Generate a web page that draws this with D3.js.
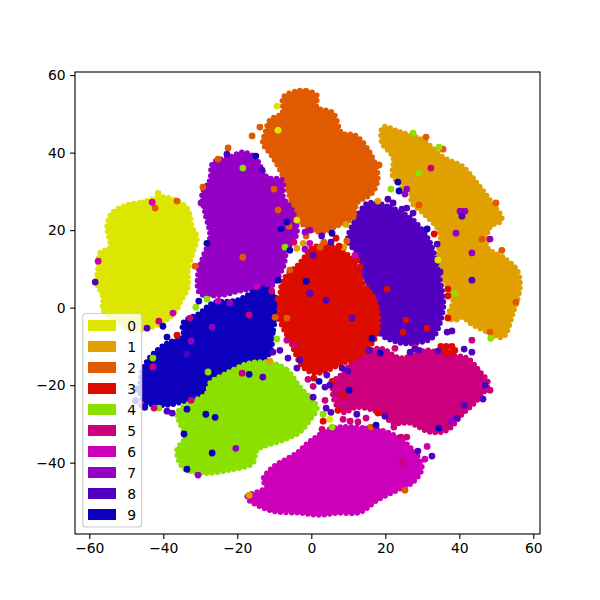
<!DOCTYPE html>
<html><head><meta charset="utf-8">
<style>html,body{margin:0;padding:0;background:#fff}svg{display:block}text{font-family:"DejaVu Sans",sans-serif;fill:#000}</style>
<script src="https://cdn.jsdelivr.net/npm/d3@7"></script></head><body><div id="c"></div>
<script>
const classLabels=["0","1","2","3","4","5","6","7","8","9"];
const classColors=["#dce600","#e0a000","#e05a00","#dc0c00","#8ce000","#cc007c","#cc00b8","#9400c4","#5200c0","#0c00bc"];
const xTicks=[-60,-40,-20,0,20,40,60];
const yTicks=[-40,-20,0,20,40,60];
const outline0=[[-49.8,26.5],[-45.8,27.2],[-39.5,28.5],[-33.6,25.7],[-32.2,20.8],[-30.9,18.2],[-32,14.1],[-33.3,9.7],[-33.3,5.3],[-35.5,1.2],[-36,0.1],[-38.2,-2.5],[-43,-5],[-49,-5.8],[-53,-3.2],[-56.3,-0.6],[-56.3,2.7],[-57.9,6.3],[-57.6,10.5],[-57.1,14.1],[-54.4,15.6],[-55.2,20.8],[-53.9,24.4]];
const outline1=[[19.4,46.6],[24,45.3],[30.2,43.2],[35.6,38.8],[41,36.3],[44.8,32.1],[48.3,27.7],[51.5,22.6],[48.3,20.8],[47.5,15.6],[51.8,13],[55.6,9.7],[56.4,5.3],[54.5,-1.4],[51.8,-7.6],[48.3,-6.6],[42.9,-4],[41,-2.5],[38.8,-3.2],[36.9,-2.5],[38.3,1.9],[35.6,7.9],[34.2,13],[34.8,19.2],[30.2,24.4],[27.2,27],[26.7,30.3],[22.1,33.7],[22.1,38.8],[19.1,42.5]];
const outline2=[[-3.9,55.9],[-1.2,55.9],[1.5,54.8],[1.5,51.7],[5.9,50.2],[8.3,45],[11.8,44.5],[15.9,39.9],[18,33.7],[16.4,29.5],[12.4,27],[11.3,23.4],[6.4,20.8],[2.4,19.5],[-3.1,22.1],[-5.8,28.5],[-7.6,33.7],[-10.4,38.8],[-13.1,42.5],[-12.5,45],[-11.2,48.4],[-7.9,50.2],[-7.6,54.3]];
const outline3=[[0.5,15.6],[5.9,15.6],[11.3,12.3],[14,6.3],[17.2,1.9],[17.8,-6.6],[14,-11.7],[8.6,-14.3],[1.5,-16.9],[-2.2,-15.4],[-5.8,-8.4],[-8.5,-3.2],[-8.5,1.9],[-7.6,7.1],[-3.1,11.5]];
const outline4=[[-10.4,-14.3],[-6.6,-16.1],[-3.1,-20.5],[1.5,-25.7],[-0.4,-29],[-3.1,-32.1],[-7.6,-34.2],[-14.7,-36.8],[-15.8,-40.1],[-22,-41.9],[-30.1,-42.7],[-34.7,-41.2],[-36.3,-36.8],[-34.1,-33.4],[-35.5,-29.8],[-36.3,-27.2],[-32.8,-24.6],[-28.2,-22.1],[-27.4,-19.5],[-22.8,-16.9],[-16.6,-14.3]];
const outline5=[[8.6,-16.9],[12.3,-12.8],[18.6,-10.5],[24,-13],[31.3,-11],[36.7,-12.3],[42.1,-13],[45.6,-16.6],[47.8,-19.5],[44.8,-23.9],[41,-27.3],[36.7,-31.6],[32.1,-32.1],[26.7,-29.8],[22.1,-29.8],[18.6,-27.2],[12.3,-25.7],[8.6,-27],[5.9,-23.1],[6.4,-18.7]];
const outline6=[[5.9,-31.1],[15,-31.1],[21.3,-32.4],[26.7,-36],[29.9,-41.2],[27.5,-45],[23.2,-47.1],[17.8,-49.7],[13.2,-52.8],[6.9,-53],[2.4,-53.5],[-3.1,-53],[-11.2,-52.3],[-17.4,-48.9],[-12,-46.3],[-13.1,-44.5],[-10.4,-41.2],[-3.9,-37.5],[-0.4,-34.5]];
const outline7=[[-18.5,40.1],[-15.2,38.8],[-12,33.7],[-7.9,32.9],[-7.6,28.5],[-5.2,25.2],[-3.9,19.2],[-6.6,14.8],[-7.6,10.5],[-11.2,5.3],[-18.5,4.5],[-24.7,3.2],[-30.1,3.7],[-30.6,8.9],[-29.3,13],[-27.4,18.2],[-28.7,24.4],[-29.5,29.5],[-27.4,32.9],[-26.6,37.3],[-22,38.8]];
const outline8=[[15.3,27],[21.3,25.9],[27.5,22.6],[31.3,18.2],[32.9,14.8],[34.2,9.7],[35.6,2.7],[35.6,-0.6],[32.9,-7.6],[27.5,-9.2],[23.2,-8.9],[18.6,-6.6],[17.8,-0.6],[15.1,6.3],[13.2,9.7],[13.2,13],[9.9,17.4],[12.4,23.4]];
const outline9=[[-9.3,1.2],[-10.4,-6.6],[-11.2,-11.7],[-14.7,-14.3],[-22,-16.9],[-27.4,-19.5],[-29.3,-22.1],[-33.6,-23.9],[-40.1,-25.2],[-45.5,-23.9],[-45.8,-16.9],[-43.6,-12.8],[-39,-9.2],[-34.7,-7.6],[-34.7,-4],[-30.1,-1.4],[-26.6,1.2],[-20.1,1.9],[-13.1,5],[-10.4,3.7]];
const outlines=[outline0,outline1,outline2,outline3,outline4,outline5,outline6,outline7,outline8,outline9];
const hullOrder=[0,1,2,7,8,5,6,9,4,3];
const strays0=[[-41.4,29.5],[-9.3,52],[-9,45.8],[-3.9,22.6],[34.2,12.3],[5,-28.8]];
const strays1=[[9.4,21.5],[18,27.5],[24.5,30.6],[-3.9,15.3],[-2.2,16.6],[8.8,15.6],[-11.2,-13.8],[-16.8,-48.4]];
const strays2=[[-36.3,27.5],[-42.2,25.7],[-31.4,10.7],[-22.5,41.2],[-25.2,38.3],[-16,44.3],[-13.9,46.6],[-10.1,30.6],[-9,25.2],[-6,21],[-1.4,18.5],[-18.5,13],[-5.8,9.7],[-29.3,31.1],[11.3,23.4],[18.3,36.8],[29.1,26.5],[35.6,40.9],[31,44],[49.9,27],[51.5,14.8],[46.1,17.7],[55.3,1.4],[9.6,17.2],[2.4,15.6],[3.4,16.9],[6.9,22],[-9.8,-2.5],[-6.6,-2.7],[48.3,-6.3],[25.3,-47.1],[16.1,-30.8]];
const strays3=[[-9,2.2],[33.2,19],[36.9,4.8],[36.9,3],[20.5,4.8],[6.7,17.9],[7.5,15.9],[12.3,12.3],[13.2,10.5],[-36.3,-7.1],[25.6,-3.2],[24.8,-6.3],[31.3,-5.3],[36.9,-2.7],[35,-10],[36.5,-10],[38,-10],[38.8,-11],[38,-11.5],[36.5,-11.5],[35,-11],[3.2,-29.3],[0.7,-18.2],[5.6,-19],[8.6,-22.6],[7.2,-26.5],[18,-27.2]];
const strays4=[[-18.5,36],[-7.1,15.6],[-28.2,2.2],[-31.2,0.1],[21.5,30.6],[29.1,34.7],[27.5,45],[34.5,41.4],[38.8,3.7],[48.5,-7.9],[-42.8,-13],[-41.2,-25.9],[-27.9,-16.6],[-9.3,-8.1],[5.6,-30.8],[3.2,-27.5]];
const strays5=[[-4.7,16.9],[-10.7,4.3],[32.3,36],[-41.2,-3.5],[-32.8,-2.7],[-45.8,-25.2],[-42.5,-25.9],[-32.5,-23.9],[-18.7,-16.9],[-6.6,-8.4],[-4.7,-9.7],[-0.9,-18.5],[-42.8,-15.3],[-16.8,-1.9],[43.4,-8.4],[48.3,-21.3],[2.9,-31.4],[3.7,-23.9],[0.5,-20.3],[8.6,-28.8],[10.5,-29.3],[14.8,-28.5],[12.6,-29.5],[22.3,-30.8],[24.2,-33.4],[25.8,-33.4],[24.5,-39.9],[28,-10.2],[22.6,-10.5]];
const strays6=[[-43,27.2],[-57.6,12],[-25.2,1.7],[-14.7,5.5],[-0.4,16.6],[11.8,13.5],[-37.4,-1.4],[31.3,-35.8],[30.7,-39.1]];
const strays7=[[-29.8,27],[-22,1.2],[-0.4,20],[-1.7,19.5],[-1.7,15.1],[40.2,24.9],[41.5,24.9],[48.3,17.7],[43.4,14.1],[39.1,19.2],[25.8,30.6],[25.3,29.3],[-20.4,-36.3],[-30.6,-43.2],[-26.8,-5],[-32.5,-8.6],[37.7,-29.3]];
const strays8=[[-58.4,6.6],[-22.8,39.6],[-13.3,35.5],[20.7,28],[22.1,27],[24.5,25.4],[25.8,25.7],[27.5,24.4],[40.7,23.6],[34,16.4],[34.8,9.2],[43.4,7.1],[2.8,18.5],[5.3,16.9],[0.5,13.5],[-44.4,-5.3],[-39,-26.7],[-37.6,-27.2],[-13.1,-17.9],[-10.4,-11.5],[-8.5,-11],[-6.3,-13],[-3.9,-15.6],[-3.1,-13.5],[-33.6,-12],[36.7,-6.3],[38,-6],[41.3,-10.7],[43.4,-11.5],[34.2,-11.2],[46.9,-20],[46.4,-23.6],[32.6,-38.3],[28.8,-37],[15.6,-11],[5.3,-27],[4,-25.9],[0.5,-23.1],[3.7,-20.5],[5,-20],[4.2,-17.4],[8.3,-15.6],[9.9,-16.4],[12.3,-27.5],[19.9,-28],[28,-10.7],[26.7,-11.5],[29.1,-11],[41.3,-25.2],[39.4,-28.5],[-0.4,3.7],[4,1.9],[11,-2.7]];
const strays9=[[-15,39.1],[-6.6,22.1],[-8.2,20.3],[-5.8,14.8],[-30.4,1.7],[-9,7.1],[-1.4,6.8],[-28.2,16.6],[23.7,30.1],[23.4,32.4],[31.3,20.3],[5.6,19.2],[-40.1,-4.8],[-39,-7.6],[-37.6,-8.9],[-47,-21],[-47.5,-24],[-45,-25.7],[-33.6,-26.2],[-34.4,-32.6],[-28.5,-27.5],[-26,-28.3],[-26.8,-37.5],[-33.6,-41.7],[-16.8,-17.2],[34.5,-31.1],[16.4,-7.9],[18.6,-11.7],[2.1,-19],[10.2,-21.3],[17.5,-30.3]];
const strays=[strays0,strays1,strays2,strays3,strays4,strays5,strays6,strays7,strays8,strays9];

const W=600,H=600,m={l:75,r:60,t:72,b:66};
const x=d3.scaleLinear().domain([-63.86,61.8]).range([m.l,W-m.r]);
const y=d3.scaleLinear().domain([-58.4,60.8]).range([H-m.b,m.t]);
const svg=d3.select("#c").append("svg").attr("width",W).attr("height",H);
const plot=svg.append("g");
const line=d3.line().x(d=>x(d[0])).y(d=>y(d[1])).curve(d3.curveCatmullRomClosed.alpha(0.5));
hullOrder.forEach(i=>{
  plot.append("path").attr("d",line(outlines[i])).attr("fill",classColors[i]).attr("stroke",classColors[i])
    .attr("stroke-width",5.5).attr("stroke-linecap","round").attr("stroke-dasharray","0 5.5");
});
strays.forEach((pts,i)=>{
  plot.append("g").selectAll("circle").data(pts).join("circle")
    .attr("cx",d=>x(d[0])).attr("cy",d=>y(d[1])).attr("r",3.4).attr("fill",classColors[i]);
});
const fmt=d=>String(d).replace("-","\u2212");
const ax=svg.append("g").attr("transform",`translate(0,${H-m.b})`).call(d3.axisBottom(x).tickValues(xTicks).tickFormat(fmt).tickSize(4.9).tickPadding(4.5));
const ay=svg.append("g").attr("transform",`translate(${m.l},0)`).call(d3.axisLeft(y).tickValues(yTicks).tickFormat(fmt).tickSize(4.9).tickPadding(4.5));
[ax,ay].forEach(a=>{a.select(".domain").remove();a.selectAll("line").attr("stroke","#000").attr("stroke-width",1.1);a.selectAll("text").attr("font-size",13.9).attr("font-family","DejaVu Sans").attr("fill","#000");});
svg.append("rect").attr("x",m.l).attr("y",m.t).attr("width",W-m.l-m.r).attr("height",H-m.t-m.b).attr("fill","none").attr("stroke","#000").attr("stroke-width",1.1);
const lg=svg.append("g");
lg.append("rect").attr("x",82.7).attr("y",313.5).attr("width",59).attr("height",213.5).attr("rx",3).attr("fill","rgba(255,255,255,0.8)").attr("stroke","#ccc").attr("stroke-width",1.1);
classLabels.forEach((t,i)=>{
  lg.append("rect").attr("x",88).attr("y",320+i*21).attr("width",28).attr("height",11).attr("fill",classColors[i]);
  lg.append("text").attr("x",127.3).attr("y",330.5+i*21).attr("font-size",13.9).text(t);
});
</script></body></html>
